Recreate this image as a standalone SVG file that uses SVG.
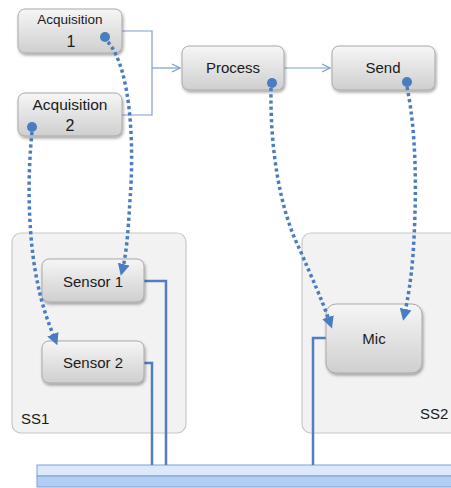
<svg xmlns="http://www.w3.org/2000/svg" width="451" height="488" viewBox="0 0 451 488">
<style>
.node{fill:url(#ng);stroke:#a9a9a9;stroke-width:1;filter:url(#sh)}
.cont{fill:#f2f2f2;stroke:#c8c8c8;stroke-width:1.2}
.t{font-family:"Liberation Sans",Arial,sans-serif;font-size:15px;fill:#1a1a1a;text-anchor:middle}
.lbl{font-family:"Liberation Sans",Arial,sans-serif;font-size:15px;fill:#1a1a1a}
.flow{fill:none;stroke:#7a9fd0;stroke-width:1.2}
.wire{fill:none;stroke:#4f7fbf;stroke-width:2.5}
.dot{fill:none;stroke:#4a7cc0;stroke-width:3.5;stroke-dasharray:3.2 3}
.src{fill:#4a7cc0}
</style>
<defs>
<linearGradient id="ng" x1="0" y1="0" x2="0" y2="1">
<stop offset="0" stop-color="#f6f6f6"/>
<stop offset="1" stop-color="#cfcfcf"/>
</linearGradient>
<linearGradient id="bg" x1="0" y1="0" x2="0" y2="1">
<stop offset="0" stop-color="#dce9fc"/>
<stop offset="1" stop-color="#a8c5f2"/>
</linearGradient>
<filter id="sh" x="-10%" y="-10%" width="125%" height="135%">
<feDropShadow dx="1" dy="2" stdDeviation="1.5" flood-color="#000" flood-opacity="0.35"/>
</filter>
<marker id="open" markerWidth="10" markerHeight="10" refX="9" refY="5" orient="auto" markerUnits="userSpaceOnUse">
<path d="M1,1 L9,5 L1,9" fill="none" stroke="#7a9fd0" stroke-width="1.2"/>
</marker>
<marker id="tri" markerWidth="14" markerHeight="14" refX="3" refY="6" orient="auto" markerUnits="userSpaceOnUse">
<path d="M0,0 L12,6 L0,12 Z" fill="#4a7cc0"/>
</marker>
</defs>

<g id="SS1"><rect class="cont" x="12" y="233" width="174" height="200" rx="9"/><text class="lbl" x="21" y="424">SS1</text></g>
<g id="SS2"><rect class="cont" x="302" y="233" width="160" height="200" rx="9"/><text class="lbl" x="420" y="419">SS2</text></g>

<g id="bus">
<rect x="37" y="465" width="420" height="11" fill="#dde9fb" stroke="#7a9fd4" stroke-width="1"/>
<rect x="37" y="476" width="420" height="11" fill="#b3cdf4" stroke="#7a9fd4" stroke-width="1"/>
</g>

<g id="connectors">
<path class="flow" d="M122,31 H152 V115 H122"/>
<path class="flow" d="M152,68 H180" marker-end="url(#open)"/>
<path class="flow" d="M284,68 H330" marker-end="url(#open)"/>
<path class="wire" d="M144,281 H166 V465"/>
<path class="wire" d="M144,363 H152 V465"/>
<path class="wire" d="M326,338 H313 V465"/>
</g>

<g id="Acquisition1"><rect class="node" x="18" y="9" width="104" height="44" rx="7"/>
<text class="t" x="70" y="24" style="font-size:13.5px">Acquisition</text><text class="t" x="71" y="47" style="font-size:16px">1</text></g>
<g id="Acquisition2"><rect class="node" x="18" y="93" width="104" height="43" rx="7"/>
<text class="t" x="70" y="110" style="font-size:15.5px">Acquisition</text><text class="t" x="70" y="131" style="font-size:16px">2</text></g>
<g id="Process"><rect class="node" x="182" y="46" width="102" height="44" rx="7"/><text class="t" x="233" y="73">Process</text></g>
<g id="Send"><rect class="node" x="332" y="46" width="103" height="44" rx="7"/><text class="t" x="383" y="73">Send</text></g>
<g id="Sensor1"><rect class="node" x="42" y="259" width="102" height="43" rx="7"/><text class="t" x="93" y="287">Sensor 1</text></g>
<g id="Sensor2"><rect class="node" x="42" y="341" width="102" height="42" rx="7"/><text class="t" x="93" y="368">Sensor 2</text></g>
<g id="Mic"><rect class="node" x="326" y="304" width="96" height="69" rx="10"/><text class="t" x="374" y="344">Mic</text></g>

<g id="dotted">
<circle class="src" cx="105" cy="37" r="5"/>
<circle class="src" cx="32" cy="127" r="5"/>
<circle class="src" cx="272" cy="83" r="5"/>
<circle class="src" cx="407" cy="82" r="5"/>
<path class="dot" d="M108,42 C132,70 134,150 130,200 C128,235 126,255 123,267" marker-end="url(#tri)"/>
<path class="dot" d="M32,132 C26,190 30,250 38,285 C42,305 48,322 54,337" marker-end="url(#tri)"/>
<path class="dot" d="M271,88 C270,150 280,210 300,250 C312,278 322,300 329,320" marker-end="url(#tri)"/>
<path class="dot" d="M407,87 C418,140 416,210 413,255 C411,280 408,298 405,312" marker-end="url(#tri)"/>
</g>
</svg>
